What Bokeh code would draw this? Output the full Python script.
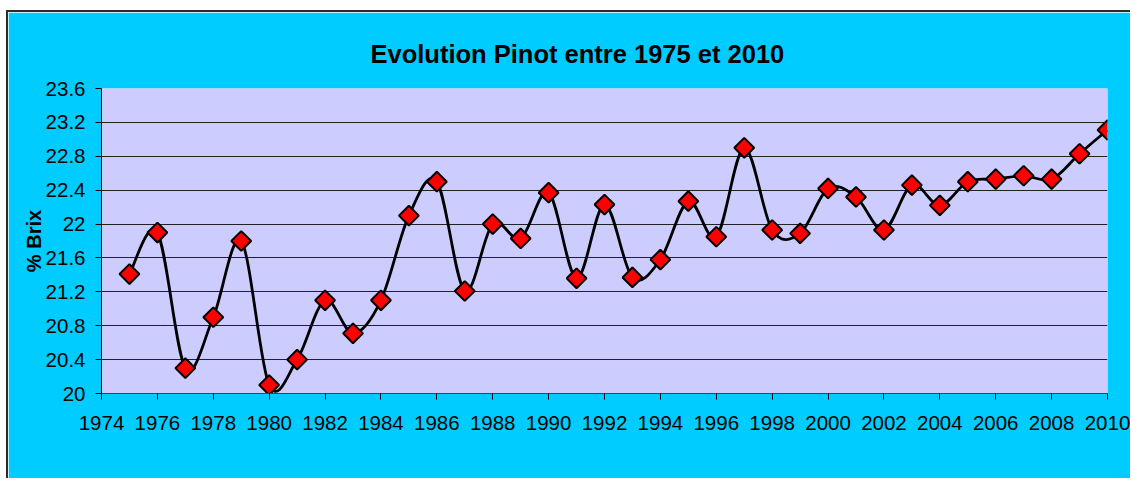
import numpy as np
from bokeh.plotting import figure
from bokeh.models import FixedTicker, CustomJSTickFormatter, Range1d
from bokeh.embed import file_html
from bokeh.resources import INLINE

# ---- data ----
years = [1975, 1976, 1977, 1978, 1979, 1980, 1981, 1982, 1983, 1984,
         1985, 1986, 1987, 1988, 1989, 1990, 1991, 1992, 1993, 1994,
         1995, 1996, 1997, 1998, 1999, 2000, 2001, 2002, 2003, 2004,
         2005, 2006, 2007, 2008, 2009, 2010]
brix = [21.41, 21.90, 20.30, 20.90, 21.80, 20.10, 20.40, 21.10, 20.71, 21.10,
        22.10, 22.50, 21.21, 22.00, 21.83, 22.37, 21.36, 22.23, 21.37, 21.58,
        22.27, 21.85, 22.90, 21.93, 21.89, 22.42, 22.32, 21.93, 22.46, 22.22,
        22.50, 22.53, 22.57, 22.53, 22.83, 23.11]
x_ticks = [1974, 1976, 1978, 1980, 1982, 1984, 1986, 1988, 1990, 1992,
           1994, 1996, 1998, 2000, 2002, 2004, 2006, 2008, 2010]
y_ticks = [20.0, 20.4, 20.8, 21.2, 21.6, 22.0, 22.4, 22.8, 23.2, 23.6]
title_text = "Evolution Pinot entre 1975 et 2010"
y_label = "% Brix"

FONT = "Liberation Sans"
CYAN = "#00CCFF"

p = figure(width=1124, height=468, output_backend="svg", toolbar_location=None,
           x_range=Range1d(1974, 2010), y_range=Range1d(20, 23.6),
           min_border_left=93, min_border_right=25, min_border_top=76,
           min_border_bottom=87)
p.styles = {"margin-left": "6px", "margin-top": "10px",
            "border-left": "2px solid #2b2b2b", "border-top": "2px solid #2b2b2b"}

p.border_fill_color = CYAN
p.background_fill_color = "#CCCCFF"
p.outline_line_color = None

# title
p.title.text = title_text
p.title.text_font = FONT
p.title.text_font_size = "25.5px"
p.title.text_font_style = "bold"
p.title.text_color = "black"
p.title.align = "left"
p.title.offset = 269
p.title.standoff = 41

# axes
p.xaxis.ticker = FixedTicker(ticks=x_ticks)
p.yaxis.ticker = FixedTicker(ticks=y_ticks)
p.yaxis.formatter = CustomJSTickFormatter(code="return tick.toFixed(1).replace(/\\.0$/, '');")
for ax in (p.xaxis[0], p.yaxis[0]):
    ax.major_label_text_font = FONT
    ax.major_label_text_font_size = "20.5px"
    ax.major_label_text_color = "black"
    ax.major_tick_out = 6
    ax.major_tick_in = 0
    ax.minor_tick_out = 0
    ax.minor_tick_in = 0
    ax.major_tick_line_color = "black"
    ax.axis_line_color = "black"
p.xaxis.axis_line_color = "#444444"
p.xaxis.major_label_standoff = 16
p.yaxis.major_label_standoff = 10

p.yaxis.axis_label = y_label
p.yaxis.axis_label_text_font = FONT
p.yaxis.axis_label_text_font_size = "20px"
p.yaxis.axis_label_text_font_style = "bold"
p.yaxis.axis_label_text_color = "black"
p.yaxis.axis_label_standoff = -2

p.xgrid.grid_line_color = None
p.ygrid.grid_line_color = "#222222"
p.ygrid.grid_line_width = 1

# smoothed line (Catmull-Rom style bezier through the data points)
x = np.array(years, dtype=float)
y = np.array(brix, dtype=float)
xp = np.concatenate([[x[0]], x, [x[-1]]])
yp = np.concatenate([[y[0]], y, [y[-1]]])
x0, y0 = x[:-1], y[:-1]
x1, y1 = x[1:], y[1:]
cx0 = x0 + (xp[2:-1] - xp[:-3]) / 6.0
cy0 = y0 + (yp[2:-1] - yp[:-3]) / 6.0
cx1 = x1 - (xp[3:] - xp[1:-2]) / 6.0
cy1 = y1 - (yp[3:] - yp[1:-2]) / 6.0
p.bezier(x0=x0, y0=y0, x1=x1, y1=y1, cx0=cx0, cy0=cy0, cx1=cx1, cy1=cy1,
         line_color="black", line_width=2.8)

p.scatter(years, brix, marker="square", angle=np.pi / 4, size=14,
          fill_color="#FF0000", line_color="black", line_width=2)

open("out.html", "w").write(file_html(p, INLINE))
